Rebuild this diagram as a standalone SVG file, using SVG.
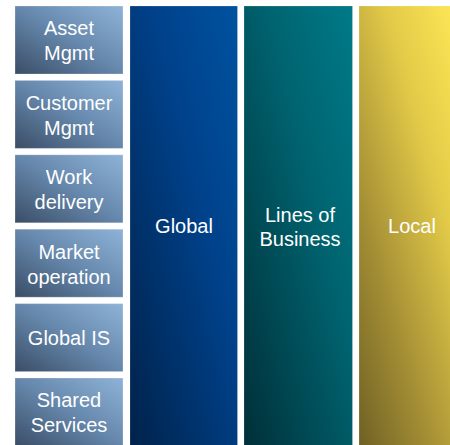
<svg xmlns="http://www.w3.org/2000/svg" width="450" height="445" viewBox="0 0 450 445">
<defs>
<linearGradient id="gBox" x1="0" y1="1" x2="1" y2="0">
<stop offset="0" stop-color="#3a4d66"/>
<stop offset="0.5" stop-color="#6587ab"/>
<stop offset="1" stop-color="#8fb3d8"/>
</linearGradient>
<linearGradient id="gGlobal" x1="0" y1="1" x2="1" y2="0">
<stop offset="0" stop-color="#00224a"/>
<stop offset="0.6" stop-color="#00418a"/>
<stop offset="1" stop-color="#0052a0"/>
</linearGradient>
<linearGradient id="gLob" x1="0" y1="1" x2="1" y2="0">
<stop offset="0" stop-color="#002f38"/>
<stop offset="0.6" stop-color="#00636f"/>
<stop offset="1" stop-color="#007a88"/>
</linearGradient>
<linearGradient id="gLocal" x1="0" y1="1" x2="0.85" y2="0">
<stop offset="0" stop-color="#6e6024"/>
<stop offset="0.35" stop-color="#a89236"/>
<stop offset="0.7" stop-color="#e2ca48"/>
<stop offset="1" stop-color="#fce554"/>
</linearGradient>
</defs>
<style>
.box{fill:url(#gBox);stroke:#ffffff;stroke-opacity:0.25;stroke-width:1}
.col{stroke:#ffffff;stroke-opacity:0.2;stroke-width:1}
text{font-family:"Liberation Sans",Arial,sans-serif;font-size:20px;fill:#ffffff;text-anchor:middle}
</style>
<rect width="450" height="445" fill="#ffffff"/>
<g id="asset-mgmt"><rect class="box" x="15" y="6" width="108" height="68"/><text x="69" y="35">Asset</text><text x="69" y="60">Mgmt</text></g>
<g id="customer-mgmt"><rect class="box" x="15" y="80.4" width="108" height="68"/><text x="69" y="110">Customer</text><text x="69" y="135">Mgmt</text></g>
<g id="work-delivery"><rect class="box" x="15" y="154.8" width="108" height="68"/><text x="69" y="184">Work</text><text x="69" y="209">delivery</text></g>
<g id="market-operation"><rect class="box" x="15" y="229.2" width="108" height="68"/><text x="69" y="258.5">Market</text><text x="69" y="283.5">operation</text></g>
<g id="global-is"><rect class="box" x="15" y="303.6" width="108" height="68"/><text x="69" y="345">Global IS</text></g>
<g id="shared-services"><rect class="box" x="15" y="378" width="108" height="68"/><text x="69" y="407">Shared</text><text x="69" y="432">Services</text></g>
<g id="global"><rect class="col" x="130" y="6" width="107.5" height="442" fill="url(#gGlobal)"/><text x="184" y="233">Global</text></g>
<g id="lines-of-business"><rect class="col" x="244" y="6" width="108.5" height="442" fill="url(#gLob)"/><text x="300" y="221.5">Lines of</text><text x="300" y="245.5">Business</text></g>
<g id="local"><rect class="col" x="359" y="6" width="108" height="442" fill="url(#gLocal)"/><text x="412" y="232.5">Local</text></g>
<g id="connectors"/>
</svg>
